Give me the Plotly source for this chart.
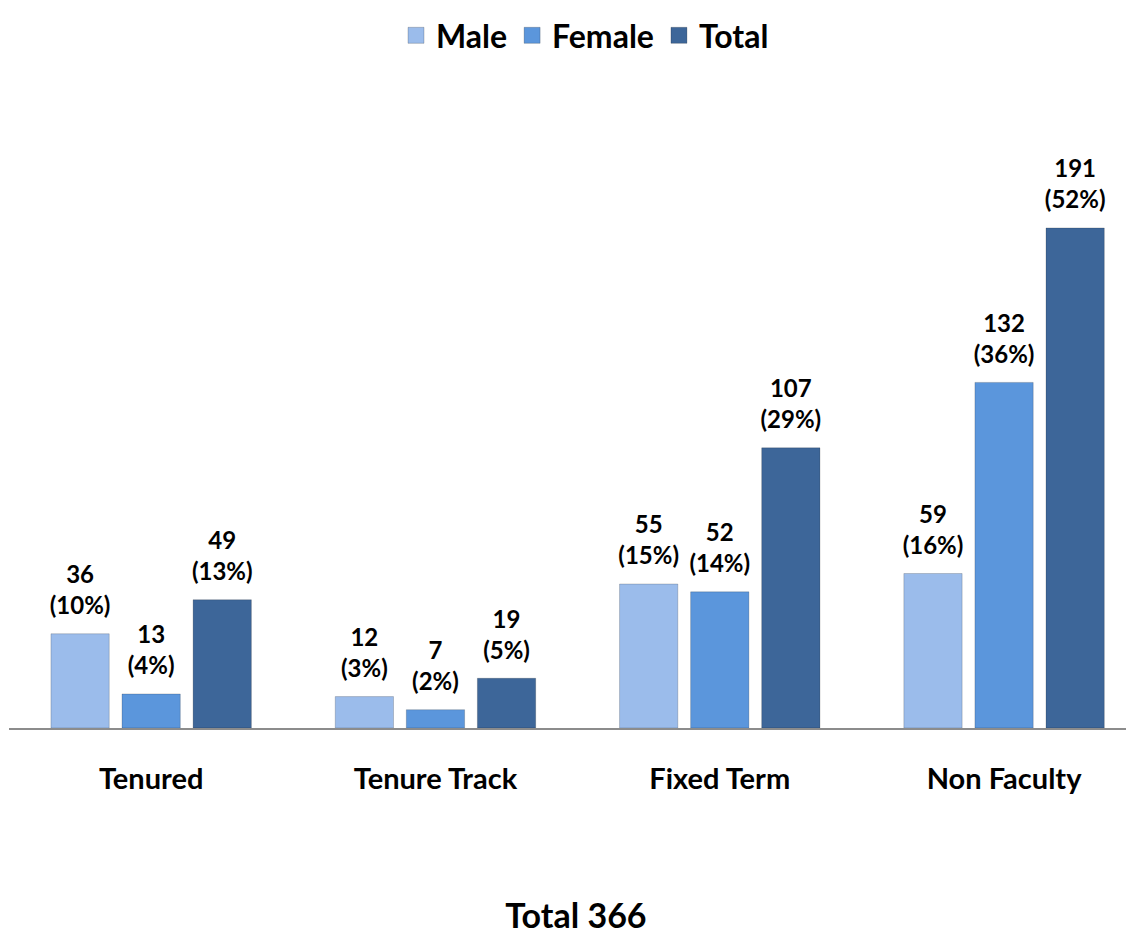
import plotly.graph_objects as go

categories = ["Tenured", "Tenure Track", "Fixed Term", "Non Faculty"]
male = [36, 12, 55, 59]
female = [13, 7, 52, 132]
total = [49, 19, 107, 191]
male_pct = [10, 3, 15, 16]
female_pct = [4, 2, 14, 36]
total_pct = [13, 5, 29, 52]
series_names = ["Male", "Female", "Total"]
colors = ["#9BBCEB", "#5B96DC", "#3D6699"]
title_text = "Total 366"

FONT = "Lato"

fig = go.Figure()
for i, (name, vals, col) in enumerate(zip(series_names, [male, female, total], colors)):
    fig.add_trace(go.Bar(
        name=name, x=categories, y=vals, offsetgroup=str(i),
        marker=dict(color=col, line=dict(color="rgba(0,0,0,0.18)", width=1)),
        showlegend=False, hoverinfo="skip",
    ))

for i, (name, vals, pcts) in enumerate(zip(series_names, [male, female, total],
                                           [male_pct, female_pct, total_pct])):
    fig.add_trace(go.Scatter(
        name=name, x=categories, y=vals, offsetgroup=str(i),
        mode="markers+text",
        marker=dict(size=20, opacity=0),
        text=[f"{v}<br>({p}%)" for v, p in zip(vals, pcts)],
        textposition="top center",
        textfont=dict(family=FONT, size=24, color="black", weight="bold"),
        cliponaxis=False, showlegend=False, hoverinfo="skip",
    ))

# legend entries with larger square symbols (on a hidden overlay axis)
for name, col in zip(series_names, colors):
    fig.add_trace(go.Scatter(
        name=name, x=[None], y=[None], mode="markers", xaxis="x2",
        marker=dict(symbol="square", size=22, color=col,
                    line=dict(color="rgba(0,0,0,0.2)", width=1)),
        showlegend=True, hoverinfo="skip",
    ))

fig.update_layout(
    width=1126, height=926,
    barmode="group", bargap=0.25, bargroupgap=0.18,
    scattermode="group", scattergap=0.25,
    plot_bgcolor="white", paper_bgcolor="white",
    margin=dict(l=1, r=0, t=144, b=206),
    font=dict(family=FONT, color="black"),
    showlegend=True,
    title=dict(text=title_text, x=0.5044, xanchor="center",
               yref="container", y=0.0194, yanchor="middle",
               font=dict(family=FONT, size=34, weight="bold", color="black")),
    legend=dict(orientation="h", x=0.512, xanchor="center",
                yref="container", y=1.0, yanchor="top",
                font=dict(family=FONT, size=32, weight="bold"),
                itemwidth=30, tracegroupgap=0, itemsizing="trace"),
    xaxis=dict(range=[-0.5, 3.457], showline=True, linecolor="#8C8C8C",
               linewidth=2, ticks="outside", ticklen=24, tickcolor="rgba(0,0,0,0)",
               tickfont=dict(family=FONT, size=29, weight="bold")),
    xaxis2=dict(overlaying="x", visible=False),
    yaxis=dict(range=[0, 220], visible=False, showgrid=False, zeroline=False),
)

fig.write_html("out.html")
